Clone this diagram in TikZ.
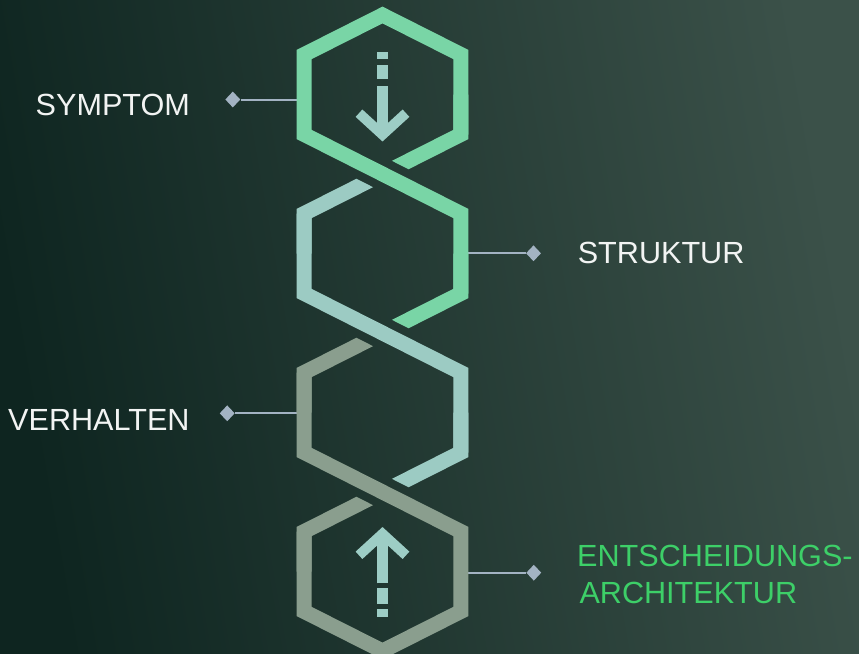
\documentclass[tikz,border=0pt]{standalone}
\usepackage{fontspec}
\setmainfont{Liberation Sans}
\usetikzlibrary{shapes.geometric}

\definecolor{bgL}{HTML}{0E2520}
\definecolor{bgR}{HTML}{3B5149}
\definecolor{strandA}{HTML}{79D5A6}
\definecolor{strandB}{HTML}{9CCBC3}
\definecolor{strandC}{HTML}{8A9E8E}
\definecolor{arrowC}{HTML}{9DCDC5}
\definecolor{linkC}{HTML}{A3B3C3}
\definecolor{labelC}{HTML}{F2F4F3}
\definecolor{accentC}{HTML}{3DCF68}

\begin{document}
\begin{tikzpicture}[x=1pt,y=-1pt,
  strand/.style={line width=15pt, line join=miter, line cap=butt},
  link/.style={draw=linkC, line width=2pt},
  pin/.style={diamond, fill=linkC, inner sep=0pt, minimum width=15pt, minimum height=16pt},
  caption/.style={inner sep=0pt, anchor=base west, text=labelC, font=\fontsize{30.6}{36}\selectfont},
  shaft/.style={draw=arrowC, line width=11pt, line cap=butt},
  chevron/.style={draw=arrowC, line width=10pt, line join=miter, line cap=butt}]

% background
\useasboundingbox (0,0) rectangle (859,653);
\shade[left color=bgL, right color=bgR, shading angle=100] (0,0) rectangle (859,653);

% hexagon vertices (centre line), pointy top
\foreach \i/\cy in {1/94.5,2/253.5,3/412.5,4/571.5}{
  \coordinate (T\i)  at (382.5, \cy-79.5);
  \coordinate (UR\i) at (460.8, \cy-40);
  \coordinate (R\i)  at (460.8, \cy);
  \coordinate (LR\i) at (460.8, \cy+40);
  \coordinate (B\i)  at (382.5, \cy+79.5);
  \coordinate (LL\i) at (304.2, \cy+40);
  \coordinate (L\i)  at (304.2, \cy);
  \coordinate (UL\i) at (304.2, \cy-40);
}
\coordinate (J1) at (B1);
\coordinate (J2) at (B2);
\coordinate (J3) at (B3);

% connectors with diamond ends
\node[pin] (d1) at (232.8, 99.5) {};
\node[pin] (d2) at (533.5, 253.3) {};
\node[pin] (d3) at (227.2, 413.3) {};
\node[pin] (d4) at (533.8, 572.7) {};
\coordinate (a1) at (304.2, 99.5);
\coordinate (a2) at (460.8, 253.3);
\coordinate (a3) at (304.2, 413.3);
\coordinate (a4) at (460.8, 572.7);
\draw[link] (d1) -- (a1);
\draw[link] (d2) -- (a2);
\draw[link] (d3) -- (a3);
\draw[link] (d4) -- (a4);

% main strands
\draw[strand, strandA] (LR1) -- (UR1) -- (T1) -- (UL1) -- (LL1) -- (UR2) -- (LR2);
\draw[strand, strandB] (UL2) -- (LL2) -- (UR3) -- (LR3);
\draw[strand, strandC] (UL3) -- (LL3) -- (UR4) -- (LR4) -- (B4) -- (LL4) -- (UL4);

% strand ends passing under a crossing, cut parallel to the upper strand
% (upper-right side of a crossing)
\begin{scope}
  \clip[shift={(J1)}] (-126.7,-81.9) -- (141.1,53.3) -- (208.7,-80.6) -- (-59.1,-215.8) -- cycle;
  \draw[strand, strandA] (R1) -- (LR1) -- (J1);
\end{scope}
\begin{scope}
  \clip[shift={(J2)}] (-126.7,-81.9) -- (141.1,53.3) -- (208.7,-80.6) -- (-59.1,-215.8) -- cycle;
  \draw[strand, strandA] (R2) -- (LR2) -- (J2);
\end{scope}
\begin{scope}
  \clip[shift={(J3)}] (-126.7,-81.9) -- (141.1,53.3) -- (208.7,-80.6) -- (-59.1,-215.8) -- cycle;
  \draw[strand, strandB] (R3) -- (LR3) -- (J3);
\end{scope}
% (lower-left side of a crossing)
\begin{scope}
  \clip[shift={(J1)}] (126.7,81.9) -- (-141.1,-53.3) -- (-208.7,80.6) -- (59.1,215.8) -- cycle;
  \draw[strand, strandB] (L2) -- (UL2) -- (J1);
\end{scope}
\begin{scope}
  \clip[shift={(J2)}] (126.7,81.9) -- (-141.1,-53.3) -- (-208.7,80.6) -- (59.1,215.8) -- cycle;
  \draw[strand, strandC] (L3) -- (UL3) -- (J2);
\end{scope}
\begin{scope}
  \clip[shift={(J3)}] (126.7,81.9) -- (-141.1,-53.3) -- (-208.7,80.6) -- (59.1,215.8) -- cycle;
  \draw[strand, strandC] (L4) -- (UL4) -- (J3);
\end{scope}

% downward arrow in the top cell
\fill[arrowC] (377,52.3) rectangle (388,59.3);
\fill[arrowC] (377,65) rectangle (388,79.3);
\draw[shaft] (382.5,86) -- (382.5,132);
\draw[chevron] (359,113.2) -- (382.5,134.7) -- (406,113.2);

% upward arrow in the bottom cell
\fill[arrowC] (377,588.3) rectangle (388,604);
\fill[arrowC] (377,608.7) rectangle (388,616.7);
\draw[shaft] (382.5,583.3) -- (382.5,536);
\draw[chevron] (359,555.3) -- (382.5,533.8) -- (406,555.3);

% labels
\node[caption] (t1) at (35.5,115.9) {SYMPTOM};
\node[caption] (t2) at (577.6,263.5) {STRUKTUR};
\node[caption] (t3) at (8,430.2) {VERHALTEN};
\node[caption, text=accentC] (t4) at (577,566.2) {ENTSCHEIDUNGS-};
\node[caption, text=accentC] (t5) at (579.3,603.5) {ARCHITEKTUR};
\end{tikzpicture}
\end{document}
